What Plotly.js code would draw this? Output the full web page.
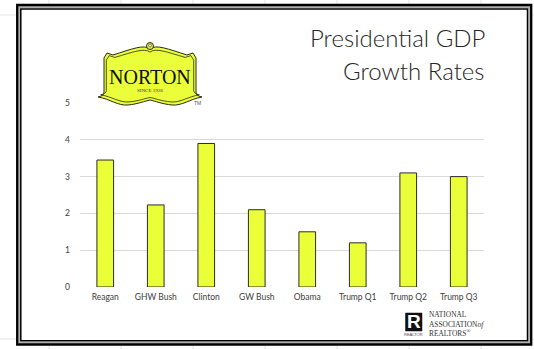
<!DOCTYPE html>
<html>
<head>
<meta charset="utf-8">
<script src="https://cdn.plot.ly/plotly-3.0.1.min.js"></script>
<style>html,body{margin:0;padding:0;background:#fff;}#chart{width:534px;height:349px;}</style>
</head>
<body>
<div id="chart"></div>
<script>
// ---- data ----
var categories = ["Reagan", "GHW Bush", "Clinton", "GW Bush", "Obama", "Trump Q1", "Trump Q2", "Trump Q3"];
var gdpGrowth = [3.45, 2.23, 3.9, 2.1, 1.5, 1.2, 3.1, 3.0];
var yTickVals = [0, 1, 2, 3, 4, 5];
var yTickText = ["0", "1", "2", "3", "4", "5"];
var titleLines = ["Presidential GDP", "Growth Rates"];

// ---- pixel -> paper helpers for decorations ----
var W = 534, H = 349, ML = 80, MR = 50, MT = 103, MB = 62;
var PW = W - ML - MR, PH = H - MT - MB;
function X(px) { return (px - ML) / PW; }
function Y(py) { return (H - MB - py) / PH; }
function pathPx(d, cx, cy, sx, sy) {
  sx = sx || 1; sy = sy || 1; cx = cx || 0; cy = cy || 0;
  return d.replace(/(-?[\d.]+),(-?[\d.]+)/g, function (m, a, b) {
    var x = cx + (parseFloat(a) - cx) * sx;
    var y = cy + (parseFloat(b) - cy) * sy;
    return X(x).toFixed(5) + ',' + Y(y).toFixed(5);
  });
}
function rectPx(x0, y0, x1, y1, color, width, fill) {
  return {type: 'rect', xref: 'paper', yref: 'paper', x0: X(x0), x1: X(x1), y0: Y(y1), y1: Y(y0),
    line: {color: color, width: width}, fillcolor: fill || 'rgba(0,0,0,0)'};
}
function linePx(x0, y0, x1, y1, color, width) {
  return {type: 'line', xref: 'paper', yref: 'paper', x0: X(x0), x1: X(x1), y0: Y(y0), y1: Y(y1),
    line: {color: color, width: width}};
}
function textPx(x, y, text, font, xanchor, align) {
  return {xref: 'paper', yref: 'paper', x: X(x), y: Y(y), text: text, showarrow: false,
    font: font, xanchor: xanchor || 'center', yanchor: 'middle', align: align || 'center', borderpad: 0};
}

var nortonOutline = "M150,49 C144,44 132,49 113,55 L107,53 L104,58 L104,92 Q104,96 98,97 " +
  "C110,99 118,106 128,105 C138,104 145,101 150,100 C155,101 162,104 172,105 " +
  "C182,106 190,99 202,97 Q196,96 196,92 L196,58 L193,53 L187,55 C168,49 156,44 150,49 Z";

var shapes = [];
// spreadsheet grid outside the frame
var sheetGrid = '#e4e4e4';
[49, 121, 193, 265, 337, 409, 481].forEach(function (x) {
  shapes.push(linePx(x, 0, x, 4, sheetGrid, 1));
  shapes.push(linePx(x, 345, x, 349, sheetGrid, 1));
});
[15, 339].forEach(function (y) {
  shapes.push(linePx(0, y, 16, y, sheetGrid, 1));
  shapes.push(linePx(532, y, 534, y, sheetGrid, 1));
});
// frame (double border)
shapes.push(rectPx(19, 7, 529.3, 342.7, '#b0b0b0', 2));
shapes.push(rectPx(17.2, 5, 531.2, 344.5, '#000', 2.3));
shapes.push(rectPx(20.8, 9, 527.5, 340.8, '#000', 1.5));
// Norton logo
shapes.push({type: 'path', xref: 'paper', yref: 'paper', path: pathPx(nortonOutline),
  fillcolor: '#eaff3a', line: {color: '#2a2a10', width: 1}});
shapes.push({type: 'path', xref: 'paper', yref: 'paper', path: pathPx(nortonOutline, 150, 77, 0.95, 0.89),
  fillcolor: 'rgba(0,0,0,0)', line: {color: '#2a2a10', width: 0.8}});
shapes.push({type: 'circle', xref: 'paper', yref: 'paper', x0: X(146.5), x1: X(153.5), y0: Y(49.5), y1: Y(42.5),
  fillcolor: '#eaff3a', line: {color: '#2a2a10', width: 1}});
shapes.push({type: 'circle', xref: 'paper', yref: 'paper', x0: X(148.5), x1: X(151.5), y0: Y(47), y1: Y(44),
  fillcolor: '#ffffff', line: {color: '#2a2a10', width: 0.6}});
// Realtor block
shapes.push(rectPx(405.5, 313, 422, 331, '#111', 0.5, '#111'));

var titleFont = {family: 'Lato, Calibri, sans-serif', size: 24, color: '#262626', weight: 300};
var annotations = [
  textPx(486, 37.5, titleLines[0], titleFont, 'right', 'right'),
  textPx(486, 70.5, titleLines[1], titleFont, 'right', 'right'),
  textPx(150, 77, 'NORTON', {family: 'Liberation Serif, serif', size: 20, color: '#111'}),
  textPx(150, 90, 'SINCE 1928', {family: 'Liberation Serif, serif', size: 5, color: '#333'}),
  textPx(197, 103, 'TM', {family: 'Liberation Sans, sans-serif', size: 5, color: '#555'}),
  textPx(413.7, 321.5, '<b>R</b>', {family: 'Liberation Sans, sans-serif', size: 19, color: '#fff'}),
  textPx(413.7, 334.5, 'REALTOR', {family: 'Liberation Sans, sans-serif', size: 4, color: '#444'}),
  textPx(428, 323.5, 'NATIONAL<br>ASSOCIATION<i>of</i><br>REALTORS<sup>®</sup>',
    {family: 'Liberation Serif, serif', size: 7.4, color: '#333'}, 'left', 'left')
];

var trace = {
  type: 'bar',
  x: categories,
  y: gdpGrowth,
  marker: {color: '#ebff38', line: {color: '#2b2b2b', width: 1}},
  hoverinfo: 'x+y'
};

var layout = {
  width: W, height: H,
  margin: {l: ML, r: MR, t: MT, b: MB, pad: 0},
  paper_bgcolor: '#ffffff',
  plot_bgcolor: 'rgba(0,0,0,0)',
  showlegend: false,
  bargap: 0.67,
  xaxis: {
    type: 'category',
    showgrid: false, zeroline: false, showline: false,
    ticks: '',
    ticklabelstandoff: 3,
    tickfont: {family: 'Lato, Calibri, sans-serif', size: 8.5, color: '#404040'},
    fixedrange: true
  },
  yaxis: {
    range: [0, 5],
    tickvals: yTickVals, ticktext: yTickText,
    showgrid: true, gridcolor: '#d9d9d9', gridwidth: 1,
    zeroline: false, showline: false, ticks: '',
    ticklabelstandoff: 9,
    tickfont: {family: 'Lato, Calibri, sans-serif', size: 8.5, color: '#404040'},
    fixedrange: true
  },
  shapes: shapes,
  annotations: annotations
};

Plotly.newPlot('chart', [trace], layout, {displayModeBar: false, staticPlot: true});
</script>
</body>
</html>
